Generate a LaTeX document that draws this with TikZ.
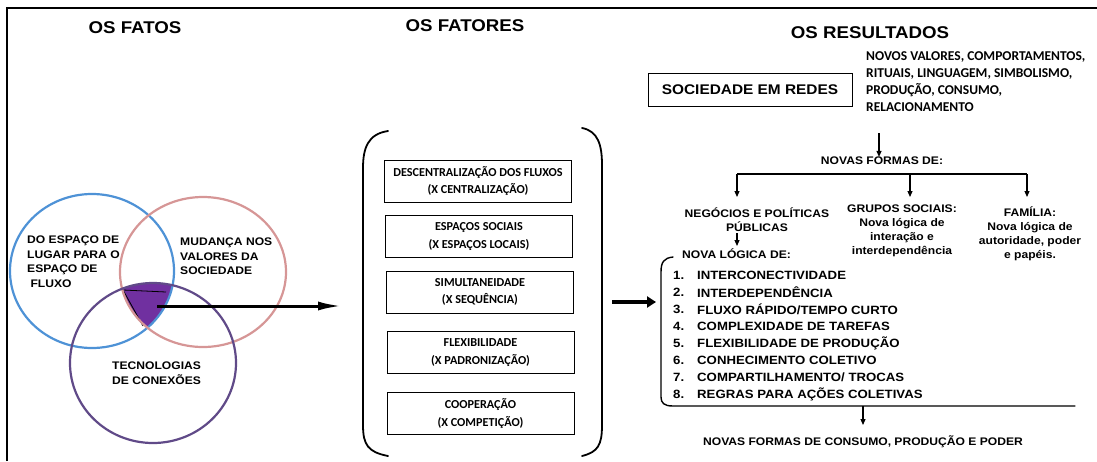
\documentclass[tikz,border=0pt]{standalone}
\usepackage{fontspec}
\setmainfont[FakeStretch=1.1]{Liberation Sans}
\newfontfamily\carl{Carlito}
\usetikzlibrary{arrows.meta,positioning}

\definecolor{vennazul}{RGB}{78,146,214}
\definecolor{vennrosa}{RGB}{214,150,150}
\definecolor{vennroxo}{RGB}{96,74,136}
\definecolor{miolo}{RGB}{112,48,160}

\tikzset{
  titulo/.style={font=\fontsize{17}{20}\selectfont\bfseries, inner sep=0},
  vennrot/.style={font=\fontsize{11}{14.5}\selectfont\bfseries, align=left, inner sep=0, anchor=north west},
  fator/.style={draw, line width=0.9, minimum width=187, minimum height=42, align=center,
    inner sep=0, font=\carl\fontsize{12.2}{17.5}\selectfont\bfseries},
  resul/.style={font=\fontsize{11}{14}\selectfont\bfseries, align=center, inner sep=0},
  lista/.style={font=\fontsize{12}{14}\selectfont\bfseries, inner sep=0, anchor=west},
  seta/.style={line width=1.1, -{Triangle[length=6pt,width=5pt]}},
  chave/.style={line width=1.8, line cap=round}
}

\begin{document}
\begin{tikzpicture}[x=1pt, y=-1pt]
  \useasboundingbox (0,0) rectangle (1097,461);
  % frame
  \draw[line width=1.3] (7,461) -- (7,8) -- (1097,8);

  % titles
  \node[titulo] (tFatos) at (135,28) {OS FATOS};
  \node[titulo] (tFatores) at (465,26) {OS FATORES};
  \node[titulo] (tResul) at (870,33) {OS RESULTADOS};

  % venn: common part
  \begin{scope}
    \clip (92,271) ellipse [x radius=82, y radius=77];
    \clip (203,272) ellipse [x radius=83, y radius=75];
    \fill[miolo] (153,363) ellipse [x radius=83, y radius=80];
  \end{scope}
  \draw[black, line width=0.8] (123,290) -- (166,292);
  \draw[black, line width=0.8] (123,290) -- (143,326);
  % venn: circles
  \draw[vennazul, line width=2.2] (92,271) ellipse [x radius=82, y radius=77];
  \draw[vennrosa, line width=2.2] (203,272) ellipse [x radius=83, y radius=75];
  \draw[vennroxo, line width=2.2] (153,363) ellipse [x radius=83, y radius=80];
  \node[vennrot] (lugar) at (27,236) {DO ESPAÇO DE\\LUGAR PARA O\\ESPAÇO DE\\\ FLUXO};
  \node[vennrot] (valores) at (180,238) {MUDANÇA NOS\\VALORES DA\\SOCIEDADE};
  \node[vennrot] (tecno) at (112,362) {TECNOLOGIAS\\DE CONEXÕES};

  \coordinate (centro) at (157,306);
  \coordinate (fatores) at (342,306);
  \draw[line width=3, -{Latex[length=24pt,width=9pt]}] (centro) -- (fatores);

  % fatores
  \draw[chave] (388,131) .. controls (368,134) and (363,148) .. (363,168) -- (363,425)
    .. controls (363,445) and (368,452) .. (388,456);
  \draw[chave] (582,128) .. controls (598,131) and (602,145) .. (602,165) -- (602,425)
    .. controls (602,445) and (598,452) .. (582,456);
  \node[fator] (f1) at (478,181) {DESCENTRALIZAÇÃO DOS FLUXOS\\(X CENTRALIZAÇÃO)};
  \node[fator] (f2) at (479,236.5) {ESPAÇOS SOCIAIS\\(X ESPAÇOS LOCAIS)};
  \node[fator] (f3) at (480,292) {SIMULTANEIDADE\\(X SEQUÊNCIA)};
  \node[fator] (f4) at (480.5,352.5) {FLEXIBILIDADE\\(X PADRONIZAÇÃO)};
  \node[fator] (f5) at (480.5,413.5) {COOPERAÇÃO\\(X COMPETIÇÃO)};

  \coordinate (saida) at (612,302);
  \coordinate (entrada) at (656,302);
  \draw[line width=4, -{Triangle[length=9pt,width=11pt]}] (saida) -- (entrada);

  % resultados
  \node[draw, line width=0.9, minimum width=204, minimum height=33, inner sep=0,
    font=\fontsize{14}{16}\selectfont\bfseries] (redes) at (750,89.5) {SOCIEDADE EM REDES};
  \node[font=\carl\fontsize{13.5}{17.3}\selectfont\bfseries, align=left, inner sep=0,
    anchor=north west] (novos) at (866,51) {NOVOS VALORES, COMPORTAMENTOS,\\RITUAIS, LINGUAGEM, SIMBOLISMO,\\PRODUÇÃO, CONSUMO,\\RELACIONAMENTO};
  \node[resul] (formas) at (882,161) {NOVAS FORMAS DE:};
  \coordinate (a0) at (879,133);
  \draw[seta] (a0) -- (formas.north -| a0);

  \coordinate (h1) at (737,174);
  \coordinate (h2) at (910,174);
  \coordinate (h3) at (1027,174);
  \draw[line width=1.1] (h1) -- (h3);
  \foreach \h in {h1,h2,h3}
    \draw[seta] (\h) -- ++(0,23);

  \node[resul] (neg) at (757,220) {NEGÓCIOS E POLÍTICAS\\PÚBLICAS};
  \node[resul] (grupos) at (902,231) {GRUPOS SOCIAIS:\\Nova lógica de\\interação e\\interdependência};
  \node[resul] (familia) at (1030,234) {FAMÍLIA:\\Nova lógica de\\autoridade, poder\\e papéis.};

  \coordinate (a1) at (737,233);
  \draw[seta] (a1) -- ++(0,13);
  \node[resul, anchor=west] (logica) at (682,254) {NOVA LÓGICA DE:};

  \draw[chave, line width=1.4] (673,257) .. controls (664,258) and (661,262) .. (661,272)
    -- (661,397) .. controls (661,403) and (664,406) .. (673,406) -- (1075,406);
  \foreach \n/\txt [count=\i from 0] in {1/INTERCONECTIVIDADE, 2/INTERDEPENDÊNCIA,
      3/{FLUXO RÁPIDO/TEMPO CURTO}, 4/COMPLEXIDADE DE TAREFAS, 5/FLEXIBILIDADE DE PRODUÇÃO,
      6/CONHECIMENTO COLETIVO, 7/{COMPARTILHAMENTO/ TROCAS}, 8/REGRAS PARA AÇÕES COLETIVAS} {
    \node[lista] (num\n) at (673,275+17.1*\i) {\n.};
    \node[lista] (item\n) at (697,275+17.1*\i) {\txt};
  }

  \coordinate (a2) at (863,406);
  \node[resul] (final) at (863,442) {NOVAS FORMAS DE CONSUMO, PRODUÇÃO E PODER};
  \draw[seta] (a2) -- ++(0,19);
\end{tikzpicture}
\end{document}
